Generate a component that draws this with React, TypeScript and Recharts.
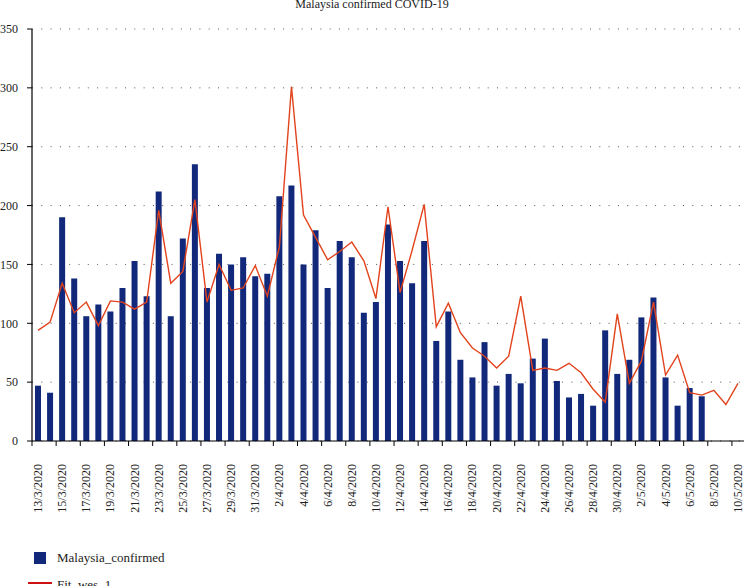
import React from 'react';
import {
  ComposedChart,
  Bar,
  Line,
  XAxis,
  YAxis,
  CartesianGrid,
} from 'recharts';

const DATES = [
  '13/3/2020', '14/3/2020', '15/3/2020', '16/3/2020', '17/3/2020', '18/3/2020', '19/3/2020',
  '20/3/2020', '21/3/2020', '22/3/2020', '23/3/2020', '24/3/2020', '25/3/2020', '26/3/2020',
  '27/3/2020', '28/3/2020', '29/3/2020', '30/3/2020', '31/3/2020', '1/4/2020', '2/4/2020',
  '3/4/2020', '4/4/2020', '5/4/2020', '6/4/2020', '7/4/2020', '8/4/2020', '9/4/2020',
  '10/4/2020', '11/4/2020', '12/4/2020', '13/4/2020', '14/4/2020', '15/4/2020', '16/4/2020',
  '17/4/2020', '18/4/2020', '19/4/2020', '20/4/2020', '21/4/2020', '22/4/2020', '23/4/2020',
  '24/4/2020', '25/4/2020', '26/4/2020', '27/4/2020', '28/4/2020', '29/4/2020', '30/4/2020',
  '1/5/2020', '2/5/2020', '3/5/2020', '4/5/2020', '5/5/2020', '6/5/2020', '7/5/2020',
  '8/5/2020', '9/5/2020', '10/5/2020',
];

const CONFIRMED: (number | null)[] = [
  47, 41, 190, 138, 106, 116, 110, 130, 153, 123, 212, 106, 172, 235, 130, 159, 150, 156, 140,
  142, 208, 217, 150, 179, 130, 170, 156, 109, 118, 184, 153, 134, 170, 85, 110, 69, 54, 84, 47, 57,
  49, 70, 87, 51, 37, 40, 30, 94, 57, 69, 105, 122, 54, 30, 45, 38, null, null, null,
];

const FIT_WES: number[] = [
  94, 101, 134, 109, 118, 98, 119, 118, 112, 118, 196, 134, 144, 205, 118, 150, 128, 130, 149,
  123, 165, 301, 192, 173, 154, 161, 169, 153, 121, 199, 126, 162, 201, 97, 117, 92, 79, 72, 62, 72,
  123, 60, 62, 60, 66, 58, 44, 33, 108, 49, 68, 118, 56, 73, 41, 39, 43, 31, 49,
];

const Y_TICKS = [0, 50, 100, 150, 200, 250, 300, 350];

const BAR_COLOR = '#12297B';
const LINE_COLOR = '#E2431C';
const FONT = '"Liberation Serif", "DejaVu Serif", serif';

const W = 744;
const H = 586;
const PLOT_LEFT = 32;
const PLOT_TOP = 29;
const PLOT_BOTTOM = 441;
const BAND = (W - PLOT_LEFT) / DATES.length;

const data = DATES.map((date, i) => ({
  date,
  confirmed: CONFIRMED[i],
  fit: FIT_WES[i],
}));

// tick marks sit between categories, labels read bottom-to-top under the category
const DateTick = (props: any) => {
  const { x, payload } = props;
  const tx = x - BAND / 2;
  const ly = PLOT_BOTTOM + 23;
  return (
    <g>
      <line x1={tx} y1={PLOT_BOTTOM} x2={tx} y2={PLOT_BOTTOM + 5} stroke="#000" strokeWidth={1} />
      <text
        x={x}
        y={ly}
        transform={`rotate(-90, ${x}, ${ly})`}
        textAnchor="end"
        dominantBaseline="central"
        fontSize={12}
        fontFamily={FONT}
        fill="#222"
      >
        {payload.value}
      </text>
    </g>
  );
};

export default function App() {
  return (
    <div style={{ position: 'absolute', left: 0, top: 0, width: W, height: H, background: '#fff', overflow: 'hidden' }}>
      <div
        style={{
          position: 'absolute',
          left: 0,
          width: W,
          top: -3,
          textAlign: 'center',
          fontFamily: FONT,
          fontSize: 12,
          lineHeight: '14px',
          color: '#222',
        }}
      >
        Malaysia confirmed COVID-19
      </div>

      <ComposedChart
        width={W}
        height={H}
        data={data}
        margin={{ top: PLOT_TOP, right: 0, left: 0, bottom: 0 }}
        barCategoryGap={0}
      >
        <CartesianGrid vertical={false} stroke="#555" strokeDasharray="1 8.3" />
        <XAxis
          dataKey="date"
          interval={1}
          height={H - PLOT_BOTTOM}
          axisLine={{ stroke: '#000', strokeWidth: 1.2 }}
          tickLine={false}
          tick={<DateTick />}
        />
        <YAxis
          width={PLOT_LEFT}
          domain={[0, 350]}
          ticks={Y_TICKS}
          interval={0}
          axisLine={{ stroke: '#000', strokeWidth: 1.2 }}
          tickLine={{ stroke: '#000' }}
          tickSize={5}
          tickMargin={9}
          tick={{ fontSize: 12, fontFamily: FONT, fill: '#222' }}
        />
        <Bar dataKey="confirmed" fill={BAR_COLOR} barSize={6} isAnimationActive={false} />
        <Line
          type="linear"
          dataKey="fit"
          stroke={LINE_COLOR}
          strokeWidth={1.4}
          dot={false}
          activeDot={false}
          isAnimationActive={false}
        />
      </ComposedChart>

      {/* legend */}
      <div style={{ position: 'absolute', left: 34, top: 552, width: 12, height: 12, background: BAR_COLOR }} />
      <div
        style={{
          position: 'absolute',
          left: 57,
          top: 550,
          fontFamily: FONT,
          fontSize: 13,
          lineHeight: '15px',
          color: '#222',
        }}
      >
        Malaysia_confirmed
      </div>
      <div style={{ position: 'absolute', left: 28, top: 582, width: 24, height: 1.5, background: '#CC1111' }} />
      <div
        style={{
          position: 'absolute',
          left: 57,
          top: 577,
          fontFamily: FONT,
          fontSize: 13,
          lineHeight: '15px',
          color: '#222',
        }}
      >
        Fit_wes_1
      </div>
    </div>
  );
}
